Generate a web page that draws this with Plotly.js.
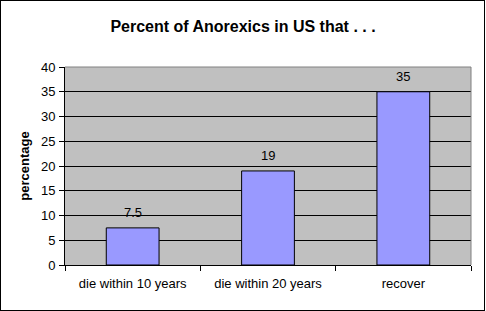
<!DOCTYPE html>
<html>
<head>
<meta charset="utf-8">
<script src="https://cdn.plot.ly/plotly-3.0.1.min.js"></script>
<style>
html,body{margin:0;padding:0;background:#fff;}
#wrap{position:relative;width:486px;height:311px;}
#chart{width:486px;height:311px;}
#frame{position:absolute;left:0;top:0;width:485px;height:311px;border:1px solid #000;box-sizing:border-box;pointer-events:none;}
</style>
</head>
<body>
<div id="wrap"><div id="chart"></div><div id="frame"></div></div>
<script>
var categories = ["die within 10 years", "die within 20 years", "recover"];
var values = [7.5, 19, 35];
var valueLabels = ["7.5", "19", "35"];
var yTicks = [0, 5, 10, 15, 20, 25, 30, 35, 40];

var font = "Liberation Sans, Arial, sans-serif";

var trace = {
  type: "bar",
  x: categories,
  y: values,
  marker: {color: "#9999FF", line: {color: "#000", width: 1}},
  hoverinfo: "none"
};

var annotations = categories.map(function (c, i) {
  return {
    x: c, y: values[i], xref: "x", yref: "y",
    text: valueLabels[i], showarrow: false,
    yanchor: "bottom", xanchor: "center", yshift: 6,
    font: {family: font, size: 13, color: "#000"}
  };
});

var layout = {
  width: 486, height: 311,
  margin: {l: 65, r: 15, t: 67, b: 46, pad: 0},
  paper_bgcolor: "#fff",
  plot_bgcolor: "#C0C0C0",
  bargap: 0.61,
  showlegend: false,
  font: {family: font, size: 13, color: "#000"},
  title: {
    text: "Percent of Anorexics in US that . . .",
    font: {family: font, size: 16, color: "#000", weight: "bold"},
    x: 0.5, xanchor: "center", y: 0.915, yanchor: "middle"
  },
  xaxis: {
    type: "category",
    showline: true, linecolor: "#000", linewidth: 1,
    ticks: "outside", tickson: "boundaries", ticklen: 5, tickcolor: "#000",
    ticklabelstandoff: 6,
    tickfont: {family: font, size: 13, color: "#000"},
    showgrid: false, zeroline: false, fixedrange: true
  },
  yaxis: {
    range: [0, 40],
    tickvals: yTicks,
    ticktext: yTicks.map(String),
    showline: true, linecolor: "#000", linewidth: 1,
    ticks: "outside", ticklen: 5, tickcolor: "#000",
    ticklabelstandoff: 1,
    tickfont: {family: font, size: 13, color: "#000"},
    showgrid: true, gridcolor: "#000", gridwidth: 1,
    zeroline: false, fixedrange: true,
    title: {text: "percentage", font: {family: font, size: 13, color: "#000", weight: "bold"}, standoff: 8}
  },
  annotations: annotations,
  shapes: [
    {type: "line", xref: "paper", yref: "paper", x0: 0, x1: 1, y0: 1, y1: 1, line: {color: "#808080", width: 1}, layer: "above"},
    {type: "line", xref: "paper", yref: "paper", x0: 1, x1: 1, y0: 0, y1: 1, line: {color: "#808080", width: 1}, layer: "above"}
  ]
};

Plotly.newPlot("chart", [trace], layout, {displayModeBar: false, staticPlot: true});
</script>
</body>
</html>
